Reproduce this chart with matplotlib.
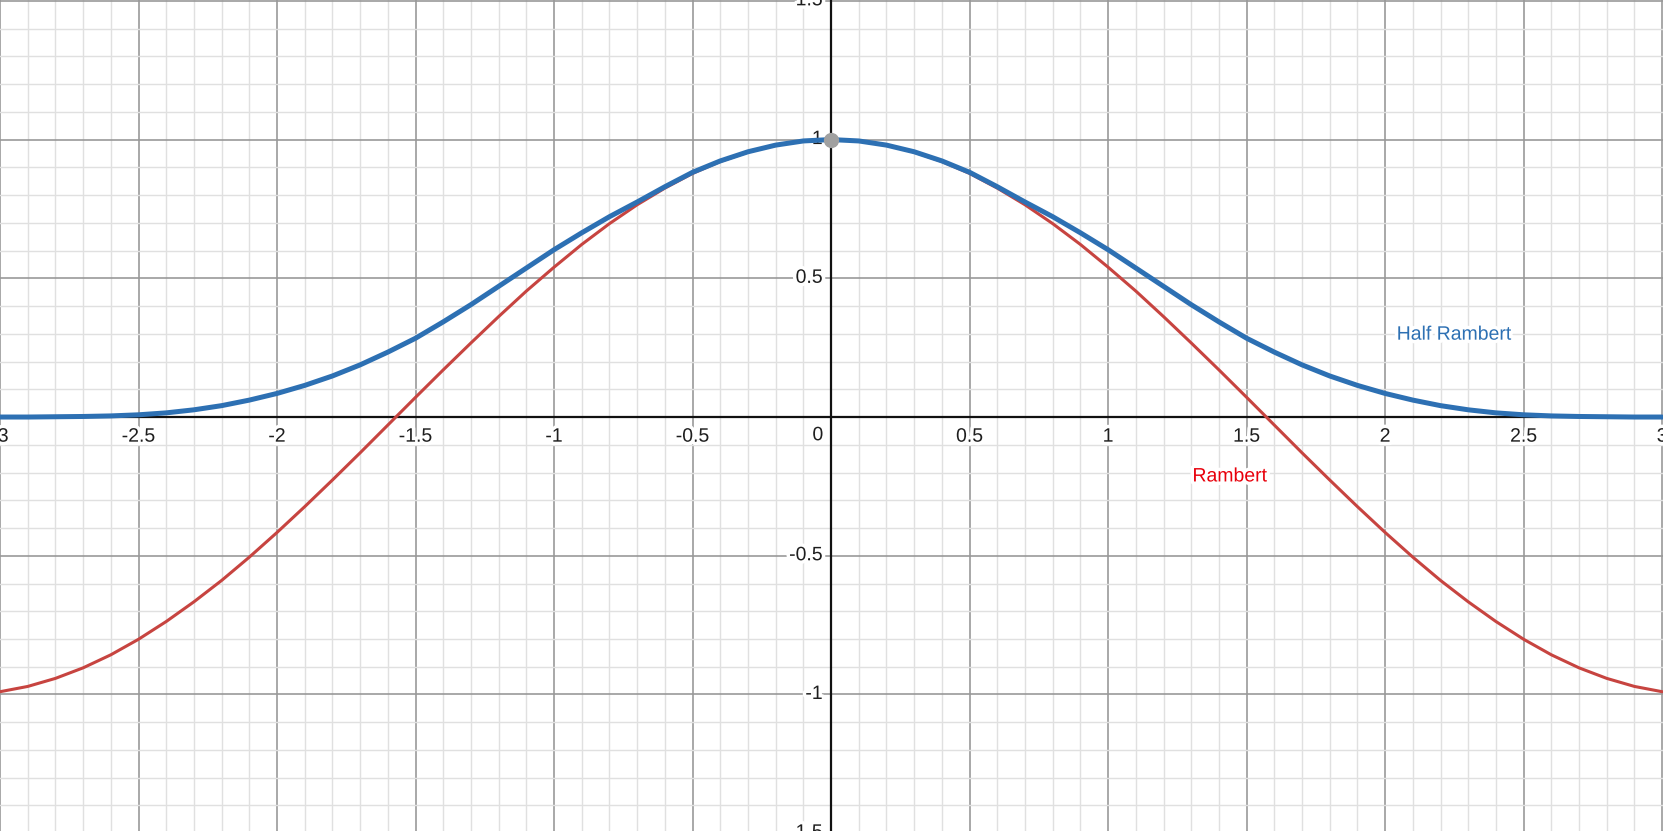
import matplotlib
matplotlib.use("Agg")
import matplotlib.pyplot as plt
import matplotlib.patheffects as pe
import numpy as np

# sample points, step 0.1 from -3 to 3
xs = [round(-3 + 0.1 * i, 1) for i in range(61)]

rambert = [-0.990, -0.971, -0.942, -0.904, -0.857, -0.801, -0.737, -0.666, -0.589, -0.505,
           -0.416, -0.323, -0.227, -0.129, -0.029, 0.071, 0.170, 0.267, 0.362, 0.454,
           0.540, 0.622, 0.697, 0.765, 0.825, 0.878, 0.921, 0.955, 0.980, 0.995,
           1.000,
           0.995, 0.980, 0.955, 0.921, 0.878, 0.825, 0.765, 0.697, 0.622, 0.540,
           0.454, 0.362, 0.267, 0.170, 0.071, -0.029, -0.129, -0.227, -0.323, -0.416,
           -0.505, -0.589, -0.666, -0.737, -0.801, -0.857, -0.904, -0.942, -0.971, -0.990]

half_rambert = [0.000, 0.000, 0.001, 0.002, 0.004, 0.008, 0.015, 0.026, 0.041, 0.061,
                0.085, 0.114, 0.148, 0.188, 0.234, 0.284, 0.343, 0.405, 0.471, 0.537,
                0.603, 0.664, 0.722, 0.775, 0.830, 0.882, 0.923, 0.956, 0.980, 0.995,
                1.000,
                0.995, 0.980, 0.956, 0.923, 0.882, 0.830, 0.775, 0.722, 0.664, 0.603,
                0.537, 0.471, 0.405, 0.343, 0.284, 0.234, 0.188, 0.148, 0.114, 0.085,
                0.061, 0.041, 0.026, 0.015, 0.008, 0.004, 0.002, 0.001, 0.000, 0.000]

x_ticks = [-3, -2.5, -2, -1.5, -1, -0.5, 0.5, 1, 1.5, 2, 2.5, 3]
x_tick_labels = ["-3", "-2.5", "-2", "-1.5", "-1", "-0.5", "0.5", "1", "1.5", "2", "2.5", "3"]
y_ticks = [-1.5, -1, -0.5, 0.5, 1, 1.5]
y_tick_labels = ["-1.5", "-1", "-0.5", "0.5", "1", "1.5"]

BLUE = "#2d70b3"
RED = "#c74440"

plt.rcParams["font.family"] = ["Liberation Sans", "DejaVu Sans"]

fig = plt.figure(figsize=(16.63, 8.31), dpi=100)
ax = fig.add_axes([0, 0, 1, 1])
ax.set_xlim(-3.0, 3.003)
ax.set_ylim(-1.492, 1.503)
for s in ax.spines.values():
    s.set_visible(False)
ax.set_xticks([])
ax.set_yticks([])

# grid
for v in np.arange(-30, 31):
    x = v / 10
    major = v % 5 == 0
    ax.axvline(x, color="#999999" if major else "#e0e0e0", lw=1.2 if major else 1.0, zorder=0)
for v in np.arange(-15, 16):
    y = v / 10
    major = v % 5 == 0
    ax.axhline(y, color="#999999" if major else "#e0e0e0", lw=1.2 if major else 1.0, zorder=0)
ax.axhline(0, color="#111111", lw=1.6, zorder=1)
ax.axvline(0, color="#111111", lw=1.6, zorder=1)

halo = [pe.withStroke(linewidth=5, foreground="white")]
for x, lab in zip(x_ticks, x_tick_labels):
    ax.annotate(lab, (x, 0), xytext=(0, -14.5), textcoords="offset points",
                ha="center", va="center", fontsize=14, color="#1e1e1e",
                path_effects=halo, zorder=2, annotation_clip=False)
for y, lab in zip(y_ticks, y_tick_labels):
    ax.annotate(lab, (0, y), xytext=(-6, 0), textcoords="offset points",
                ha="right", va="center", fontsize=14, color="#1e1e1e",
                path_effects=halo, zorder=2, annotation_clip=False)
ax.annotate("0", (0, 0), xytext=(-9.5, -13.5), textcoords="offset points",
            ha="center", va="center", fontsize=14, color="#1e1e1e",
            path_effects=halo, zorder=2)

ax.plot(xs, rambert, color=RED, lw=2.2, solid_capstyle="round", solid_joinstyle="round", zorder=3)
ax.plot(xs, half_rambert, color=BLUE, lw=3.6, solid_capstyle="round", solid_joinstyle="round", zorder=4)
ax.plot([0], [1], "o", color="#a0a0a0", ms=10, zorder=5)

halo2 = [pe.withStroke(linewidth=5, foreground="white")]
ax.text(2.25, 0.295, "Half Rambert", color=BLUE, fontsize=14, ha="center", va="center",
        path_effects=halo2, zorder=6)
ax.text(1.44, -0.216, "Rambert", color="#e8000b", fontsize=14, ha="center", va="center",
        path_effects=halo2, zorder=6)

fig.savefig("out.png", dpi=100)
